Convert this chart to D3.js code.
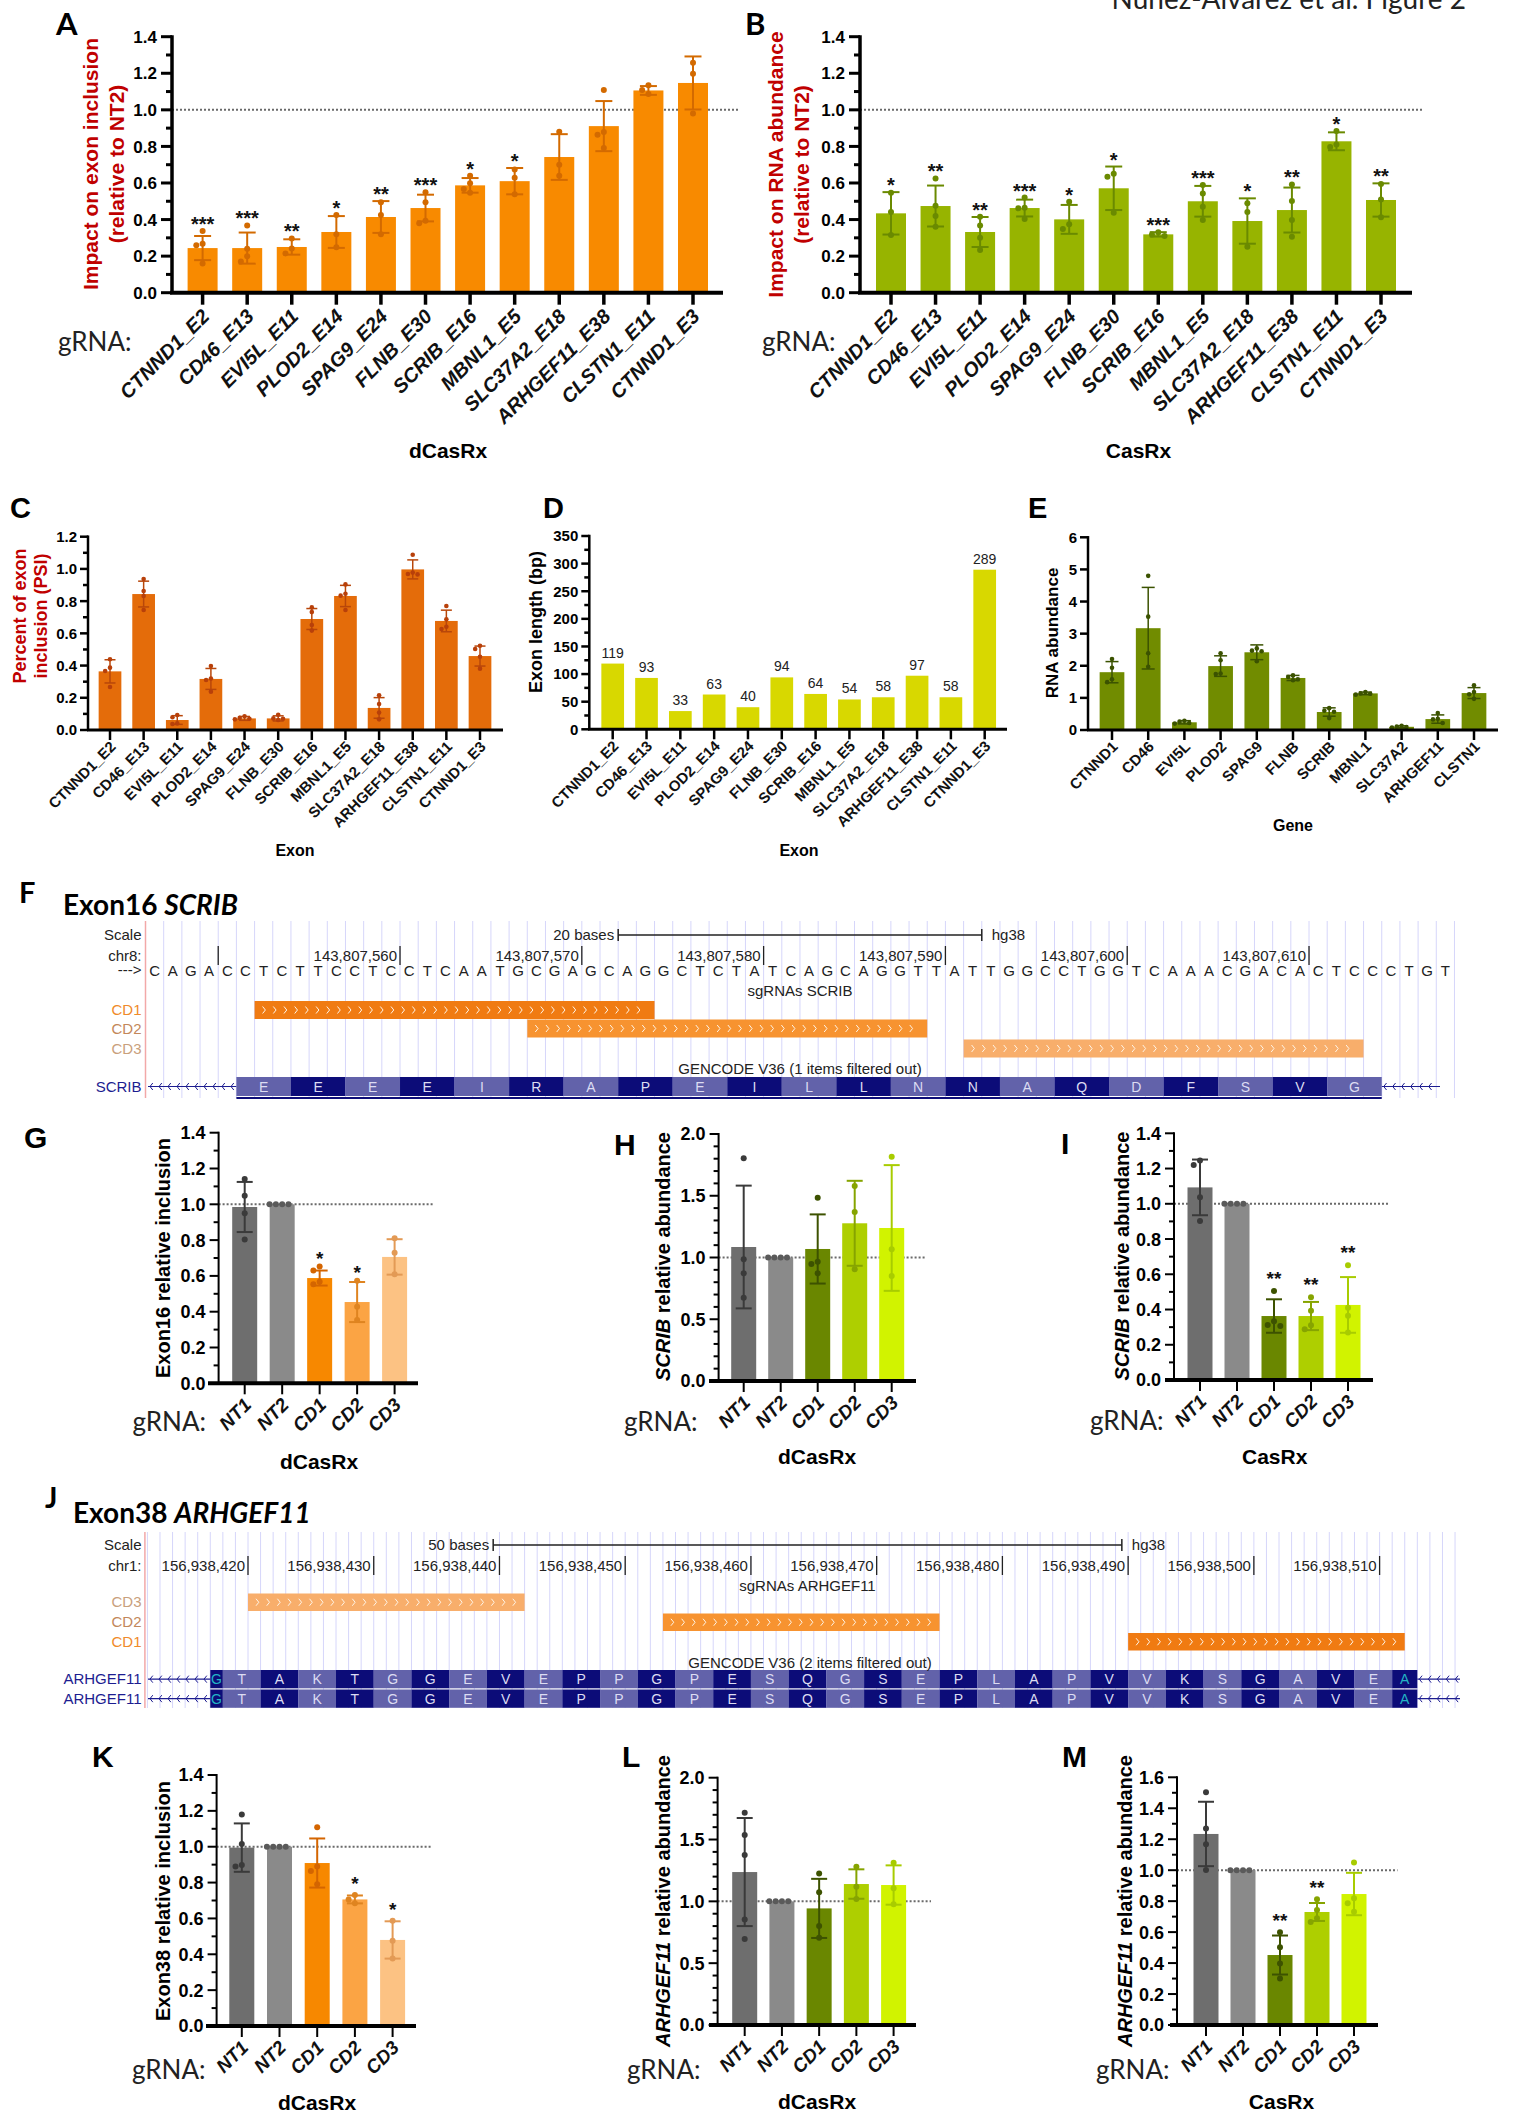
<!DOCTYPE html>
<html>
<head>
<meta charset="utf-8">
<script src="https://cdn.jsdelivr.net/npm/d3@7"></script>
<style>
  body { margin: 0; background: #fff; }
  svg { display: block; }
</style>
</head>
<body>
<svg id="fig" width="1516" height="2112"></svg>
<script>
// ---------------- data ----------------
const exonGuides = ["CTNND1_E2", "CD46_E13", "EVI5L_E11", "PLOD2_E14", "SPAG9_E24", "FLNB_E30",
  "SCRIB_E16", "MBNL1_E5", "SLC37A2_E18", "ARHGEF11_E38", "CLSTN1_E11", "CTNND1_E3"];

// A: dCasRx, impact on exon inclusion (relative to NT2)
const aMean = [0.244, 0.244, 0.25, 0.332, 0.414, 0.463, 0.587, 0.61, 0.742, 0.911, 1.106, 1.147];
const aSD = [0.066, 0.085, 0.042, 0.087, 0.087, 0.073, 0.04, 0.072, 0.125, 0.137, 0.024, 0.145];
const aPts = [[0.337, 0.268, 0.259, 0.16], [0.368, 0.24, 0.2, 0.17], [0.297, 0.242, 0.215],
  [0.425, 0.319, 0.248], [0.494, 0.425, 0.319], [0.549, 0.494, 0.394, 0.38],
  [0.64, 0.598, 0.567, 0.547], [0.674, 0.629, 0.538], [0.88, 0.7, 0.64],
  [1.108, 0.879, 0.864, 0.791], [1.134, 1.108, 1.086], [1.258, 1.197, 0.98]];
const aStars = ["***", "***", "**", "*", "**", "***", "*", "*", "", "", "", ""];

// B: CasRx, impact on RNA abundance (relative to NT2)
const bMean = [0.434, 0.474, 0.332, 0.463, 0.401, 0.571, 0.319, 0.5, 0.392, 0.452, 0.828, 0.507];
const bSD = [0.116, 0.112, 0.082, 0.046, 0.079, 0.119, 0.012, 0.084, 0.124, 0.123, 0.049, 0.091];
const bPts = [[0.547, 0.441, 0.315], [0.625, 0.476, 0.419, 0.361], [0.416, 0.368, 0.3, 0.233],
  [0.52, 0.465, 0.462, 0.403], [0.498, 0.375, 0.348], [0.65, 0.634, 0.437],
  [0.33, 0.318, 0.31], [0.589, 0.543, 0.47, 0.397], [0.489, 0.441, 0.251],
  [0.592, 0.501, 0.397, 0.306], [0.884, 0.811, 0.797], [0.594, 0.51, 0.412]];
const bStars = ["*", "**", "**", "***", "*", "*", "***", "***", "*", "**", "*", "**"];

// C: percent of exon inclusion (PSI)
const cMean = [0.364, 0.844, 0.062, 0.317, 0.072, 0.072, 0.689, 0.832, 0.137, 0.997, 0.677, 0.459];
const cSD = [0.072, 0.08, 0.027, 0.065, 0.012, 0.016, 0.065, 0.066, 0.064, 0.059, 0.067, 0.062];
const cPts = [[0.439, 0.387, 0.366, 0.267], [0.937, 0.863, 0.832, 0.745], [0.093, 0.079, 0.041, 0.037],
  [0.397, 0.319, 0.31, 0.238], [0.085, 0.075, 0.07, 0.066], [0.095, 0.072, 0.07, 0.062],
  [0.761, 0.732, 0.652, 0.617], [0.904, 0.846, 0.834, 0.745], [0.215, 0.161, 0.108, 0.066],
  [1.088, 0.977, 0.968, 0.966], [0.77, 0.687, 0.641, 0.627], [0.523, 0.503, 0.455, 0.381]];

// D: exon length (bp)
const dLength = [119, 93, 33, 63, 40, 94, 64, 54, 58, 97, 58, 289];

// E: RNA abundance per gene
const eGenes = ["CTNND1", "CD46", "EVI5L", "PLOD2", "SPAG9", "FLNB", "SCRIB", "MBNL1", "SLC37A2", "ARHGEF11", "CLSTN1"];
const eMean = [1.8, 3.17, 0.24, 1.99, 2.42, 1.62, 0.56, 1.14, 0.1, 0.34, 1.15];
const eSD = [0.33, 1.27, 0.05, 0.32, 0.23, 0.08, 0.13, 0.04, 0.03, 0.13, 0.17];
const ePts = [[2.21, 1.94, 1.58, 1.49], [4.8, 3.53, 2.39, 1.97], [0.29, 0.26, 0.22, 0.2],
  [2.39, 2.17, 1.76, 1.74], [2.54, 2.47, 2.45, 2.14], [1.7, 1.65, 1.58, 1.55],
  [0.68, 0.6, 0.57, 0.37], [1.18, 1.14, 1.13, 1.1], [0.13, 0.11, 0.09, 0.08],
  [0.53, 0.35, 0.33, 0.22], [1.39, 1.18, 1.11, 0.97]];

// G-M: guide comparisons
const guideCats = ["NT1", "NT2", "CD1", "CD2", "CD3"];

const gMean = [0.985, 1.0, 0.588, 0.454, 0.706];
const gSD = [0.14, 0, 0.042, 0.112, 0.099];
const gPts = [[1.141, 1.048, 0.95, 0.804], [1, 1, 1, 1], [0.652, 0.63, 0.568, 0.553], [0.573, 0.428, 0.354], [0.81, 0.73, 0.609]];
const gStars = ["", "", "*", "*", ""];

const hMean = [1.085, 1.0, 1.069, 1.277, 1.239];
const hSD = [0.497, 0, 0.28, 0.344, 0.509];
const hPts = [[1.803, 0.985, 0.872, 0.675], [1, 1, 1, 1], [1.484, 0.966, 0.947, 0.872], [1.579, 1.368, 0.904], [1.816, 1.066, 0.85]];

const iMean = [1.093, 1.0, 0.363, 0.363, 0.426];
const iSD = [0.158, 0, 0.095, 0.08, 0.158];
const iPts = [[1.245, 1.22, 1.037, 0.902], [1, 1, 1, 1], [0.505, 0.333, 0.312, 0.306], [0.469, 0.393, 0.31, 0.288], [0.651, 0.41, 0.365, 0.27]];
const iStars = ["", "", "**", "**", "**"];

const kMean = [0.995, 1.0, 0.909, 0.706, 0.48];
const kSD = [0.135, 0, 0.137, 0.022, 0.104];
const kPts = [[1.18, 1.015, 0.898, 0.889], [1, 1, 1, 1], [1.108, 0.889, 0.865, 0.79], [0.731, 0.706, 0.685], [0.587, 0.476, 0.376]];
const kStars = ["", "", "", "*", "*"];

const lMean = [1.237, 1.0, 0.943, 1.14, 1.132];
const lSD = [0.437, 0, 0.239, 0.119, 0.159];
const lPts = [[1.717, 1.536, 1.375, 0.854, 0.695], [1, 1, 1, 1], [1.226, 1.073, 0.8, 0.706], [1.28, 1.119, 1.02], [1.313, 1.105, 0.976]];

const mMean = [1.234, 1.0, 0.452, 0.73, 0.846];
const mSD = [0.208, 0, 0.126, 0.058, 0.137];
const mPts = [[1.503, 1.27, 1.167, 1.001], [1, 1, 1, 1], [0.599, 0.502, 0.398, 0.301], [0.812, 0.743, 0.689, 0.665], [1.049, 0.818, 0.786, 0.732]];
const mStars = ["", "", "**", "**", ""];

// Genome browser: SCRIB exon 16 (chr8)
const scribSeq = "CAGACCTCTTCCTCCTCAATGCGAGCAGGCTCTATCAGCAGGTTATTGGCCTGGTCAAACGACACTCCCTGT";
const scribSeqStart = 143807546;
const scribTicks = [143807550, 143807560, 143807570, 143807580, 143807590, 143807600, 143807610];
const scribGuideNames = ["CD1", "CD2", "CD3"];
const scribGuideStart = [143807552, 143807567, 143807591];
const scribGuideEnd = [143807574, 143807589, 143807613];
const scribCds = [143807551, 143807614];
const scribAA = "EEEEIRAPEILLNNAQDFSVG";
const scribScaleBar = [143807572, 143807592];

// Genome browser: ARHGEF11 exon 38 (chr1)
const arhTicks = [156938420, 156938430, 156938440, 156938450, 156938460, 156938470, 156938480, 156938490, 156938500, 156938510];
const arhGuideNames = ["CD3", "CD2", "CD1"];
const arhGuideStart = [156938420, 156938453, 156938490];
const arhGuideEnd = [156938442, 156938475, 156938512];
const arhCds = [156938417, 156938513];
const arhAA = "TAKTGGEVEPPGPESQGSEPLAPVVKSGAVE";
const arhScaleBar = [156938439.5, 156938489.5];

// ---------------- helpers ----------------
const svg = d3.select("#fig");
const ARIAL = "'Liberation Sans', Arial, Helvetica, sans-serif";
const LATO = "Lato, 'Open Sans', sans-serif";
const RED = "#C00000";

function txt(x, y, s, o = {}) {
  const t = svg.append("text").attr("x", x).attr("y", y).text(s)
    .attr("font-family", o.family || ARIAL).attr("font-size", o.size || 15)
    .attr("font-weight", o.weight || "normal").attr("fill", o.fill || "#000")
    .attr("text-anchor", o.anchor || "start");
  if (o.italic) t.attr("font-style", "italic");
  return t;
}

// multi-line rotated axis title, lines = [[ [text, italic], ...], ...]
function rotTitle(x, y, lines, o) {
  const t = svg.append("text").attr("transform", `translate(${x},${y}) rotate(-90)`)
    .attr("text-anchor", "middle").attr("font-family", ARIAL).attr("font-weight", "bold")
    .attr("font-size", o.size).attr("fill", o.fill || "#000");
  lines.forEach((parts, li) => {
    parts.forEach(([s, it], pi) => {
      const ts = t.append("tspan").text(s);
      if (pi === 0) ts.attr("x", 0).attr("dy", li === 0 ? 0 : o.lh);
      if (it) ts.attr("font-style", "italic");
    });
  });
}

// simple dot swarm so replicate points do not overlap
function swarm(vals, y, r) {
  const placed = [];
  vals.map(v => ({ v, py: y(v) })).sort((a, b) => a.py - b.py).forEach(p => {
    for (const k of [0, -1, 1, -2, 2, -3, 3]) {
      const px = k * r * 2.1;
      if (placed.every(q => Math.hypot(q.px - px, q.py - p.py) >= r * 1.9)) { p.px = px; break; }
    }
    if (p.px === undefined) p.px = 0;
    placed.push(p);
  });
  return placed;
}

function barPanel(c) {
  const g = svg.append("g");
  const n = c.cats.length;
  const step = (c.lastX - c.firstX) / (n - 1);
  const pad = 1 - c.barW / step;
  const x = d3.scaleBand().domain(c.cats)
    .range([c.firstX - step / 2, c.lastX + step / 2])
    .paddingInner(pad).paddingOuter(pad / 2);
  const y = d3.scaleLinear().domain([0, c.yMax]).range([c.yBottom, c.yTop]);
  const cx = i => x(c.cats[i]) + x.bandwidth() / 2;
  const idx = d3.range(n);
  const col = (a, i) => Array.isArray(a) ? a[i] : a;

  if (c.refEnd) {
    g.append("line").attr("x1", c.axisX).attr("x2", c.refEnd).attr("y1", y(1)).attr("y2", y(1))
      .attr("stroke", "#6a6a6a").attr("stroke-width", 2).attr("stroke-dasharray", "2,2");
  }

  g.selectAll("rect.bar").data(idx).join("rect").attr("class", "bar")
    .attr("x", i => x(c.cats[i])).attr("width", x.bandwidth())
    .attr("y", i => y(c.means[i])).attr("height", i => y(0) - y(c.means[i]))
    .attr("fill", i => col(c.colors, i));

  if (c.values) {
    g.selectAll("text.val").data(idx).join("text").attr("class", "val")
      .attr("x", i => cx(i)).attr("y", i => y(c.values[i]) - 6)
      .attr("text-anchor", "middle").attr("font-family", ARIAL).attr("font-size", 14)
      .attr("fill", "#222").text(i => c.values[i]);
  }

  if (c.sd) {
    idx.forEach(i => {
      if (!c.sd[i]) return;
      const ec = col(c.errColors, i), xc = cx(i);
      const hi = y(c.means[i] + c.sd[i]), lo = y(Math.max(0, c.means[i] - c.sd[i]));
      g.append("line").attr("x1", xc).attr("x2", xc).attr("y1", hi).attr("y2", lo)
        .attr("stroke", ec).attr("stroke-width", c.errW);
      [hi, lo].forEach(yy => g.append("line").attr("x1", xc - c.capW / 2).attr("x2", xc + c.capW / 2)
        .attr("y1", yy).attr("y2", yy).attr("stroke", ec).attr("stroke-width", c.errW));
    });
  }

  if (c.points) {
    idx.forEach(i => {
      const pts = swarm(c.points[i], y, c.r);
      g.selectAll(null).data(pts).join("circle")
        .attr("cx", p => cx(i) + p.px).attr("cy", p => p.py).attr("r", c.r)
        .attr("fill", col(c.ptColors, i));
    });
  }

  if (c.stars) {
    idx.forEach(i => {
      if (!c.stars[i]) return;
      const top = Math.max(c.means[i] + (c.sd ? c.sd[i] : 0), d3.max(c.points[i]));
      g.append("text").attr("x", cx(i)).attr("y", y(top) + c.starOff)
        .attr("text-anchor", "middle").attr("font-family", ARIAL).attr("font-weight", "bold")
        .attr("font-size", c.starSize).attr("fill", "#111").text(c.stars[i]);
    });
  }

  // y axis
  g.append("line").attr("x1", c.axisX).attr("x2", c.axisX)
    .attr("y1", c.yBottom).attr("y2", c.yTop - c.tickW / 2)
    .attr("stroke", "#000").attr("stroke-width", c.axisW);
  const majors = d3.range(0, c.yMax + 1e-9, c.majorStep);
  const fmt = d3.format(c.fmt);
  majors.forEach(v => {
    g.append("line").attr("x1", c.axisX - c.majorLen).attr("x2", c.axisX)
      .attr("y1", y(v)).attr("y2", y(v)).attr("stroke", "#000").attr("stroke-width", c.tickW);
    g.append("text").attr("x", c.axisX - c.majorLen - c.tickGap).attr("y", y(v)).attr("dy", "0.36em")
      .attr("text-anchor", "end").attr("font-family", ARIAL).attr("font-weight", "bold")
      .attr("font-size", c.tickSize).text(fmt(v));
  });
  if (c.minorStep) {
    d3.range(0, c.yMax + 1e-9, c.minorStep)
      .filter(v => majors.every(m => Math.abs(m - v) > 1e-6))
      .forEach(v => g.append("line").attr("x1", c.axisX - c.minorLen).attr("x2", c.axisX)
        .attr("y1", y(v)).attr("y2", y(v)).attr("stroke", "#000").attr("stroke-width", c.tickW));
  }

  // x axis
  g.append("line").attr("x1", c.xStart).attr("x2", c.xEnd).attr("y1", c.yBottom).attr("y2", c.yBottom)
    .attr("stroke", "#000").attr("stroke-width", c.xAxisW);
  idx.forEach(i => {
    g.append("line").attr("x1", cx(i)).attr("x2", cx(i)).attr("y1", c.yBottom)
      .attr("y2", c.yBottom + c.xTickLen).attr("stroke", "#000").attr("stroke-width", c.xTickW);
    const t = g.append("text").attr("transform", `translate(${cx(i) + c.lblDx},${c.yBottom + c.lblOff}) rotate(-45)`)
      .attr("text-anchor", "end").attr("dy", "0.35em").attr("font-family", ARIAL).attr("font-weight", "bold")
      .attr("font-size", c.lblSize).attr("fill", "#111").text(c.cats[i]);
    if (c.lblItalic) t.attr("font-style", "italic");
  });
  return { x, y };
}

// ---------------- top row: A, B ----------------
const bigCommon = {
  cats: exonGuides, barW: 30, yTop: 36.7, yBottom: 292.7, yMax: 1.4, majorStep: 0.2, minorStep: 0.1, fmt: ".1f",
  axisW: 3.5, xAxisW: 4, majorLen: 11, minorLen: 6, tickW: 3, tickSize: 17, tickGap: 4,
  xTickLen: 12, xTickW: 3.5, lblSize: 20, lblItalic: true, lblDx: 3, lblOff: 20,
  capW: 17, errW: 2, r: 3, starSize: 20, starOff: 0
};
barPanel(Object.assign({}, bigCommon, {
  means: aMean, sd: aSD, points: aPts, stars: aStars,
  colors: "#F88A00", errColors: "#D36A00", ptColors: "#D36A00",
  firstX: 202.6, lastX: 693, axisX: 172, xStart: 170, xEnd: 723, refEnd: 739
}));
barPanel(Object.assign({}, bigCommon, {
  means: bMean, sd: bSD, points: bPts, stars: bStars,
  colors: "#97B400", errColors: "#6A8A00", ptColors: "#6A8A00",
  firstX: 891, lastX: 1381, axisX: 860, xStart: 858, xEnd: 1412, refEnd: 1422
}));
rotTitle(97.6, 164, [[["Impact on exon inclusion"]], [["(relative to NT2)"]]], { size: 21, lh: 26, fill: RED });
rotTitle(782.6, 164.5, [[["Impact on RNA abundance"]], [["(relative to NT2)"]]], { size: 21, lh: 26, fill: RED });
txt(56, 35, "A", { family: LATO, size: 31, weight: "bold" });
txt(745, 35, "B", { family: LATO, size: 31, weight: "bold" });
txt(58, 351, "gRNA:", { family: LATO, size: 26, fill: "#222" });
txt(762, 351, "gRNA:", { family: LATO, size: 26, fill: "#222" });
txt(448, 457.5, "dCasRx", { size: 21, weight: "bold", anchor: "middle" });
txt(1138.5, 457.5, "CasRx", { size: 21, weight: "bold", anchor: "middle" });
txt(1466, 9, "Nunez-Alvarez et al. Figure 2", { family: LATO, size: 28, anchor: "end", fill: "#222" });

// ---------------- middle row: C, D, E ----------------
const midCommon = {
  axisW: 2.5, xAxisW: 3, majorLen: 8, minorLen: 5, tickW: 2.5, tickSize: 15, tickGap: 3,
  xTickLen: 10, xTickW: 2.5, lblSize: 15, lblItalic: false, lblDx: 3, lblOff: 14,
  capW: 11, errW: 1.5, r: 2.3
};
barPanel(Object.assign({}, midCommon, {
  cats: exonGuides, means: cMean, sd: cSD, points: cPts,
  colors: "#E46C0A", errColors: "#B8470A", ptColors: "#B8400A",
  firstX: 110, lastX: 480, barW: 22.7, yTop: 536.7, yBottom: 730, yMax: 1.2, majorStep: 0.2, minorStep: 0.1, fmt: ".1f",
  axisX: 88, xStart: 87, xEnd: 503
}));
barPanel(Object.assign({}, midCommon, {
  cats: exonGuides, means: dLength, values: dLength,
  colors: "#D8D800",
  firstX: 612.7, lastX: 984.7, barW: 22.7, yTop: 536, yBottom: 729.3, yMax: 350, majorStep: 50, minorStep: 25, fmt: "d",
  axisX: 589.3, xStart: 588, xEnd: 1007
}));
barPanel(Object.assign({}, midCommon, {
  cats: eGenes, means: eMean, sd: eSD, points: ePts, capW: 13,
  colors: "#718C00", errColors: "#3B5200", ptColors: "#3B5200",
  firstX: 1112, lastX: 1474, barW: 24.7, yTop: 537.3, yBottom: 730, yMax: 6, majorStep: 1, fmt: "d",
  axisX: 1088, xStart: 1087, xEnd: 1498
}));
rotTitle(25.5, 616, [[["Percent of exon"]], [["inclusion (PSI)"]]], { size: 18, lh: 21, fill: RED });
rotTitle(541.5, 622, [[["Exon length (bp)"]]], { size: 18, lh: 0 });
rotTitle(1058, 633, [[["RNA abundance"]]], { size: 17, lh: 0 });
txt(10, 518, "C", { size: 29, weight: "bold" });
txt(543, 518, "D", { size: 29, weight: "bold" });
txt(1028, 518, "E", { size: 29, weight: "bold" });
txt(295, 856, "Exon", { size: 16, weight: "bold", anchor: "middle" });
txt(799, 856, "Exon", { size: 16, weight: "bold", anchor: "middle" });
txt(1293, 831, "Gene", { size: 16, weight: "bold", anchor: "middle" });

// ---------------- genome browser tracks ----------------
const guideBarColor = { CD1: "#F07B12", CD2: "#F79330", CD3: "#F8AE6B" };
const guideLabelColor = { CD1: "#F08A2A", CD2: "#C3875A", CD3: "#C9A07C" };
const LIGHT = "#6262AA", DARK = "#0C0C78", NAVY = "#1C1C90";

function chevrons(g, x0, x1, yc, dir, color, spacing, h) {
  d3.range(x0, x1, spacing).forEach(px => {
    const d = dir > 0
      ? `M${px},${yc - h} L${px + h * 0.8},${yc} L${px},${yc + h}`
      : `M${px + h * 0.8},${yc - h} L${px},${yc} L${px + h * 0.8},${yc + h}`;
    g.append("path").attr("d", d).attr("fill", "none").attr("stroke", color).attr("stroke-width", 1);
  });
}

function track(t) {
  const g = svg.append("g");
  const x = t.x;
  // grid
  g.selectAll("line.grid").data(d3.range(t.gridFrom, t.gridTo + 1)).join("line")
    .attr("x1", d => x(d)).attr("x2", d => x(d)).attr("y1", t.top).attr("y2", t.bottom)
    .attr("stroke", "#D6D6FA").attr("stroke-width", 1);
  g.append("line").attr("x1", x(t.border)).attr("x2", x(t.border)).attr("y1", t.top).attr("y2", t.bottom)
    .attr("stroke", "#F2A8A8").attr("stroke-width", 1.5);
  const lab = (xx, yy, s, o = {}) => txt(xx, yy, s, Object.assign({ size: 15, fill: "#222" }, o));

  // scale row
  lab(141.5, t.scaleY + 5, "Scale", { anchor: "end" });
  lab(x(t.scaleBar[0]) - 4, t.scaleY + 5, t.scaleText, { anchor: "end" });
  g.append("line").attr("x1", x(t.scaleBar[0])).attr("x2", x(t.scaleBar[1])).attr("y1", t.scaleY).attr("y2", t.scaleY)
    .attr("stroke", "#222").attr("stroke-width", 1.5);
  t.scaleBar.forEach(v => g.append("line").attr("x1", x(v)).attr("x2", x(v))
    .attr("y1", t.scaleY - 6).attr("y2", t.scaleY + 6).attr("stroke", "#222").attr("stroke-width", 1.5));
  lab(x(t.scaleBar[1]) + 10, t.scaleY + 5, "hg38");

  // coordinate ticks
  lab(141.5, t.chrY + 5, t.chr, { anchor: "end" });
  t.ticks.forEach((v, i) => {
    g.append("line").attr("x1", x(v)).attr("x2", x(v)).attr("y1", t.chrY - 10).attr("y2", t.chrY + 9)
      .attr("stroke", "#222").attr("stroke-width", 1.3);
    if (t.tickLabelled[i]) lab(x(v) - 3, t.chrY + 5, d3.format(",")(v), { anchor: "end" });
  });

  // sequence
  if (t.seq) {
    lab(141.5, t.seqY + 5, "--->", { anchor: "end" });
    g.selectAll("text.seq").data(t.seq.split("")).join("text")
      .attr("x", (d, i) => x(t.seqStart + i + 0.5)).attr("y", t.seqY + 5.5)
      .attr("text-anchor", "middle").attr("font-family", ARIAL).attr("font-size", 15).attr("fill", "#222").text(d => d);
  }

  lab(x(t.sgMid), t.sgY + 5, t.sgText, { anchor: "middle" });

  // guides
  t.guideNames.forEach((nm, i) => {
    const yTop = t.guideRows[i];
    lab(141.5, yTop + t.rowH / 2 + 5, nm, { anchor: "end", fill: guideLabelColor[nm] });
    g.append("rect").attr("x", x(t.guideStart[i])).attr("y", yTop)
      .attr("width", x(t.guideEnd[i]) - x(t.guideStart[i])).attr("height", t.rowH).attr("fill", guideBarColor[nm]);
    chevrons(g, x(t.guideStart[i]) + 8, x(t.guideEnd[i]) - 10, yTop + t.rowH / 2, 1, "#FFF4E6", 10.7, 3.5);
  });

  lab(x(t.gencMid), t.gencY + 5, t.gencText, { anchor: "middle" });

  // gene model rows
  t.geneRows.forEach(yTop => {
    const yc = yTop + t.geneH / 2;
    lab(141.5, yc + 5, t.gene, { anchor: "end", fill: NAVY });
    g.append("line").attr("x1", 148).attr("x2", x(t.cds[0])).attr("y1", yc).attr("y2", yc).attr("stroke", NAVY).attr("stroke-width", 1.2);
    g.append("line").attr("x1", x(t.cds[1])).attr("x2", t.arrowEnd).attr("y1", yc).attr("y2", yc).attr("stroke", NAVY).attr("stroke-width", 1.2);
    chevrons(g, 150, x(t.cds[0]) - 4, yc, -1, NAVY, 9, 3.5);
    chevrons(g, x(t.cds[1]) + 2, t.arrowEnd - 3, yc, -1, NAVY, 9, 3.5);
    t.boxes.forEach(b => {
      g.append("rect").attr("x", x(b.s)).attr("y", yTop).attr("width", x(b.e) - x(b.s)).attr("height", t.geneH)
        .attr("fill", b.dark ? DARK : LIGHT);
      g.append("text").attr("x", (x(b.s) + x(b.e)) / 2).attr("y", yTop + t.geneH / 2 + 5)
        .attr("text-anchor", "middle").attr("font-family", ARIAL).attr("font-size", 14)
        .attr("fill", b.teal ? "#22B4C4" : "#DCDCF2").text(b.aa);
    });
  });
  if (t.underline) {
    g.append("rect").attr("x", x(t.cds[0])).attr("y", t.underline).attr("width", x(t.cds[1]) - x(t.cds[0]))
      .attr("height", 2).attr("fill", DARK);
  }
}

// codon boxes for the two exons
const scribBoxes = scribAA.split("").map((aa, i) => ({
  s: scribCds[0] + 3 * i, e: scribCds[0] + 3 * i + 3, aa, dark: i % 2 === 1, teal: false }));
const arhBoxes = [{ s: arhCds[0], e: arhCds[0] + 1, aa: "G", dark: true, teal: true }]
  .concat(arhAA.split("").map((aa, i) => ({
    s: arhCds[0] + 1 + 3 * i, e: arhCds[0] + 4 + 3 * i, aa, dark: i % 2 === 1, teal: false })))
  .concat([{ s: arhCds[1] - 2, e: arhCds[1], aa: "A", dark: true, teal: true }]);

txt(19, 903, "F", { family: LATO, size: 29, weight: "bold" });
const fTitle = txt(63, 915, "Exon16 ", { family: LATO, size: 28, weight: "bold" });
fTitle.append("tspan").attr("font-style", "italic").text("SCRIB");

track({
  x: d3.scaleLinear().domain([scribSeqStart, scribSeqStart + 72]).range([145.5, 145.5 + 72 * 18.18]),
  top: 921, bottom: 1098, border: scribSeqStart, gridFrom: scribSeqStart + 1, gridTo: scribSeqStart + 72,
  scaleY: 935, scaleBar: scribScaleBar, scaleText: "20 bases",
  chr: "chr8:", chrY: 956, ticks: scribTicks, tickLabelled: scribTicks.map((v, i) => i > 0),
  seq: scribSeq, seqStart: scribSeqStart, seqY: 970,
  sgText: "sgRNAs SCRIB", sgMid: 143807582, sgY: 991,
  guideNames: scribGuideNames, guideStart: scribGuideStart, guideEnd: scribGuideEnd,
  guideRows: [1001, 1019.5, 1039.5], rowH: 18,
  gencText: "GENCODE V36 (1 items filtered out)", gencMid: 143807582, gencY: 1069,
  gene: "SCRIB", geneRows: [1077], geneH: 19, cds: scribCds, arrowEnd: 1440, boxes: scribBoxes, underline: 1097
});

txt(45, 1508, "J", { family: LATO, size: 29, weight: "bold" });
const jTitle = txt(73, 1523, "Exon38 ", { family: LATO, size: 28, weight: "bold" });
jTitle.append("tspan").attr("font-style", "italic").text("ARHGEF11");

track({
  x: d3.scaleLinear().domain([156938420, 156938510]).range([248, 1379.6]),
  top: 1532, bottom: 1708, border: 156938411.8, gridFrom: 156938412, gridTo: 156938516,
  scaleY: 1545, scaleBar: arhScaleBar, scaleText: "50 bases",
  chr: "chr1:", chrY: 1566, ticks: arhTicks, tickLabelled: arhTicks.map(() => true),
  sgText: "sgRNAs ARHGEF11", sgMid: 156938464.5, sgY: 1586,
  guideNames: arhGuideNames, guideStart: arhGuideStart, guideEnd: arhGuideEnd,
  guideRows: [1593.5, 1613.5, 1633], rowH: 17.5,
  gencText: "GENCODE V36 (2 items filtered out)", gencMid: 156938464.7, gencY: 1662.5,
  gene: "ARHGEF11", geneRows: [1670, 1689.5], geneH: 18.3, cds: arhCds, arrowEnd: 1460, boxes: arhBoxes
});

// ---------------- lower panels: G-I, K-M ----------------
const orangeSet = ["#6E6E6E", "#8A8A8A", "#F78800", "#FBA444", "#FCC283"];
const orangeErr = ["#3A3A3A", "#5A5A5A", "#D46500", "#DF8420", "#E39A55"];
const greenSet = ["#6E6E6E", "#8A8A8A", "#6A8700", "#AECF00", "#D1F300"];
const greenErr = ["#3A3A3A", "#5A5A5A", "#3D5200", "#86A400", "#A8CC00"];
const smallCommon = {
  cats: guideCats, barW: 25, majorStep: 0.2, minorStep: 0.1, fmt: ".1f",
  axisW: 2, xAxisW: 4, majorLen: 9, minorLen: 5, tickW: 2, tickSize: 18, tickGap: 4,
  xTickLen: 11, xTickW: 2, lblSize: 19, lblItalic: true, lblDx: 3, lblOff: 18,
  capW: 16, errW: 2, r: 3, starSize: 19, starOff: -2
};
barPanel(Object.assign({}, smallCommon, {
  means: gMean, sd: gSD, points: gPts, stars: gStars, colors: orangeSet, errColors: orangeErr, ptColors: orangeErr,
  firstX: 244.7, lastX: 394.6, yTop: 1132.7, yBottom: 1383.3, yMax: 1.4,
  axisX: 218.6, xStart: 208, xEnd: 418, refEnd: 433
}));
barPanel(Object.assign({}, smallCommon, {
  means: hMean, sd: hSD, points: hPts, colors: greenSet, errColors: greenErr, ptColors: greenErr,
  firstX: 743.7, lastX: 891.7, yTop: 1134, yBottom: 1381, yMax: 2.0, majorStep: 0.5,
  axisX: 718.6, xStart: 709, xEnd: 916, refEnd: 926.5
}));
barPanel(Object.assign({}, smallCommon, {
  means: iMean, sd: iSD, points: iPts, stars: iStars, colors: greenSet, errColors: greenErr, ptColors: greenErr,
  firstX: 1200, lastX: 1348, yTop: 1133.3, yBottom: 1380, yMax: 1.4, starOff: -6,
  axisX: 1174, xStart: 1165, xEnd: 1373, refEnd: 1390
}));
barPanel(Object.assign({}, smallCommon, {
  means: kMean, sd: kSD, points: kPts, stars: kStars, colors: orangeSet, errColors: orangeErr, ptColors: orangeErr,
  firstX: 241.8, lastX: 392.6, yTop: 1775, yBottom: 2026, yMax: 1.4, starOff: -5,
  axisX: 216.6, xStart: 206, xEnd: 416, refEnd: 432
}));
barPanel(Object.assign({}, smallCommon, {
  means: lMean, sd: lSD, points: lPts, colors: greenSet, errColors: greenErr, ptColors: greenErr,
  firstX: 744.7, lastX: 893.6, yTop: 1777.7, yBottom: 2025, yMax: 2.0, majorStep: 0.5,
  axisX: 717.6, xStart: 709, xEnd: 916, refEnd: 931
}));
barPanel(Object.assign({}, smallCommon, {
  means: mMean, sd: mSD, points: mPts, stars: mStars, colors: greenSet, errColors: greenErr, ptColors: greenErr,
  firstX: 1206, lastX: 1354, yTop: 1777.3, yBottom: 2025, yMax: 1.6, starOff: -5,
  axisX: 1177, xStart: 1170, xEnd: 1378, refEnd: 1397.5
}));

rotTitle(169.7, 1258, [[["Exon16 relative inclusion"]]], { size: 20, lh: 0 });
rotTitle(669.7, 1256.5, [[["SCRIB", true], [" relative abundance"]]], { size: 20, lh: 0 });
rotTitle(1129.2, 1256, [[["SCRIB", true], [" relative abundance"]]], { size: 20, lh: 0 });
rotTitle(169.7, 1901, [[["Exon38 relative inclusion"]]], { size: 20, lh: 0 });
rotTitle(669.7, 1901, [[["ARHGEF11", true], [" relative abundance"]]], { size: 20, lh: 0 });
rotTitle(1132, 1901, [[["ARHGEF11", true], [" relative abundance"]]], { size: 20, lh: 0 });

txt(24, 1148, "G", { size: 30, weight: "bold" });
txt(614, 1155, "H", { size: 30, weight: "bold" });
txt(1061, 1154, "I", { size: 30, weight: "bold" });
txt(92, 1767, "K", { size: 30, weight: "bold" });
txt(622, 1767, "L", { size: 30, weight: "bold" });
txt(1062, 1767, "M", { size: 30, weight: "bold" });

[[132.5, 1431], [624, 1431], [1090, 1430], [132, 2079], [627, 2079], [1096, 2079]].forEach(([gx, gy]) =>
  txt(gx, gy, "gRNA:", { family: LATO, size: 26, fill: "#222" }));
txt(319, 1469, "dCasRx", { size: 21, weight: "bold", anchor: "middle" });
txt(817, 1464, "dCasRx", { size: 21, weight: "bold", anchor: "middle" });
txt(1274.7, 1464, "CasRx", { size: 21, weight: "bold", anchor: "middle" });
txt(317, 2110, "dCasRx", { size: 21, weight: "bold", anchor: "middle" });
txt(817, 2109, "dCasRx", { size: 21, weight: "bold", anchor: "middle" });
txt(1281.5, 2109, "CasRx", { size: 21, weight: "bold", anchor: "middle" });
</script>
</body>
</html>
